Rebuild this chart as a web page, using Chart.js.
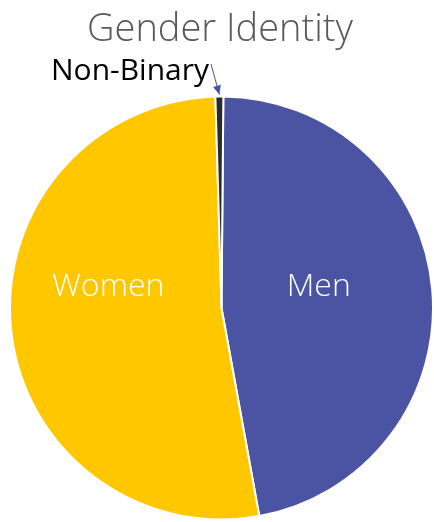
<!DOCTYPE html>
<html>
<head>
<meta charset="utf-8">
<script src="https://cdn.jsdelivr.net/npm/chart.js@4"></script>
<style>
  html, body { margin: 0; padding: 0; background: #fff; }
  #wrap { width: 434px; height: 522px; position: relative; }
</style>
</head>
<body>
<div id="wrap"><canvas id="c"></canvas></div>
<script>
  const chartTitle = 'Gender Identity';
  const categories = ['Men', 'Women', 'Non-Binary'];
  const shares = [47.0, 52.4, 0.6];
  const sliceColors = ['#4b54a3', '#ffc700', '#2b2b2b'];

  const FONT = '"Open Sans", "Noto Sans", sans-serif';

  // Title, in-slice labels and the Non-Binary call-out with its arrow.
  const labelPlugin = {
    id: 'labels',
    afterDatasetsDraw(chart) {
      const ctx = chart.ctx;
      const meta = chart.getDatasetMeta(0);
      ctx.save();

      ctx.fillStyle = '#595959';
      ctx.font = '300 38px ' + FONT;
      ctx.textAlign = 'center';
      ctx.textBaseline = 'middle';
      ctx.fillText(chartTitle, 220, 30);

      meta.data.forEach((arc, i) => {
        const p = arc.getProps(['x', 'y', 'startAngle', 'endAngle', 'outerRadius'], true);
        const mid = (p.startAngle + p.endAngle) / 2;
        if (i < 2) {
          // labels sit on one horizontal line, like the original
          const dx = i === 0 ? 0.46 : -0.535;
          ctx.fillStyle = '#ffffff';
          ctx.font = '300 32px ' + FONT;
          ctx.textAlign = 'center';
          ctx.fillText(categories[i], p.x + dx * p.outerRadius, p.y - 21);
        } else {
          const tx = p.x + Math.cos(mid) * (p.outerRadius + 2);
          const ty = p.y + Math.sin(mid) * (p.outerRadius + 2);
          const sx = 211, sy = 64;
          ctx.strokeStyle = '#4b54a3';
          ctx.lineWidth = 1;
          ctx.beginPath();
          ctx.moveTo(sx, sy);
          ctx.lineTo(tx, ty);
          ctx.stroke();
          const a = Math.atan2(ty - sy, tx - sx);
          ctx.fillStyle = '#4b54a3';
          ctx.beginPath();
          ctx.moveTo(tx, ty);
          ctx.lineTo(tx - 9 * Math.cos(a) + 4 * Math.sin(a), ty - 9 * Math.sin(a) - 4 * Math.cos(a));
          ctx.lineTo(tx - 9 * Math.cos(a) - 4 * Math.sin(a), ty - 9 * Math.sin(a) + 4 * Math.cos(a));
          ctx.closePath();
          ctx.fill();
          ctx.fillStyle = '#000000';
          ctx.font = '400 30px ' + FONT;
          ctx.textAlign = 'right';
          ctx.fillText(categories[i], 209, 71);
        }
      });
      ctx.restore();
    }
  };

  new Chart(document.getElementById('c'), {
    type: 'pie',
    data: {
      labels: categories,
      datasets: [{
        data: shares,
        backgroundColor: sliceColors,
        borderColor: '#ffffff',
        borderWidth: 2
      }]
    },
    options: {
      responsive: true,
      maintainAspectRatio: false,
      animation: false,
      rotation: 0.5,
      layout: { padding: { left: 9, right: 0, top: 95, bottom: 1 } },
      plugins: {
        legend: { display: false },
        tooltip: { enabled: false }
      }
    },
    plugins: [labelPlugin]
  });
</script>
</body>
</html>
